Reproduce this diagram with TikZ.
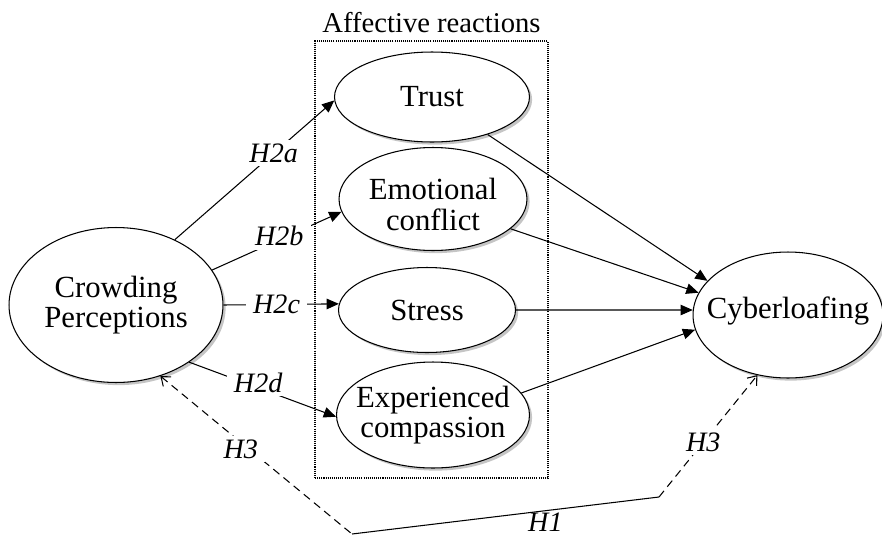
\documentclass[tikz,border=0pt]{standalone}
\usepackage{fontspec}
\setmainfont{Liberation Serif}
\usetikzlibrary{shapes.geometric,shadows,arrows.meta}

\begin{document}
\begin{tikzpicture}[x=0.02cm,y=-0.02cm,
  construct/.style={ellipse,draw,fill=white,line width=0.6pt,inner sep=0pt,
    drop shadow={shadow xshift=1.5pt,shadow yshift=-1.5pt,fill=black!45}},
  txt/.style={align=center,inner sep=0pt,font=\fontsize{17.5}{17.5}\selectfont},
  hyp/.style={fill=white,inner xsep=4pt,inner ysep=2pt,font=\fontsize{16}{16}\selectfont\itshape},
  effect/.style={line width=0.6pt,-{Triangle[length=7pt,width=6pt]}},
  moderated/.style={line width=0.6pt,dash pattern=on 4.5pt off 3pt},
  barb/.tip={Straight Barb[length=4.5pt,width=7pt]}]
  \useasboundingbox (0,0) rectangle (882,538);

  % affective reactions group
  \node[draw,line width=0.8pt,dash pattern=on 0.6pt off 0.6pt,inner sep=0pt,
    minimum width=4.66cm,minimum height=8.74cm] (group) at (431.5,259.5) {};
  \node[anchor=base,inner sep=0pt,font=\fontsize{16.3}{16}\selectfont]
    (title) at ([yshift=4.5pt]group.north) {Affective reactions};

  % constructs
  \node[construct,minimum width=4.28cm,minimum height=3.1cm,
    label={[txt]center:Crowding\\Perceptions}] (crowd) at (116,305) {};
  \node[construct,minimum width=3.9cm,minimum height=1.8cm,
    label={[txt]center:Trust}] (trust) at (432,97) {};
  \node[construct,minimum width=3.76cm,minimum height=2.06cm,
    label={[txt,yshift=-3pt]center:Emotional\\conflict}] (conflict) at (433,199) {};
  \node[construct,minimum width=3.54cm,minimum height=1.7cm,
    label={[txt]center:Stress}] (stress) at (427,310) {};
  \node[construct,minimum width=3.86cm,minimum height=2.12cm,
    label={[txt]center:Experienced\\compassion}] (compassion) at (433,415) {};
  \node[construct,minimum width=3.8cm,minimum height=2.52cm,
    label={[txt,yshift=2pt]center:Cyberloafing}] (cyber) at (788,315) {};

  % H2 paths
  \draw[effect] (crowd.48) -- node[hyp,pos=0.62] {H2a} (trust.182);
  \draw[effect] (crowd.20) -- node[hyp,pos=0.52,yshift=2pt] {H2b} (conflict.188);
  \draw[effect] (crowd.0) -- node[hyp,pos=0.46] {H2c} (stress.176);
  \draw[effect] (crowd.-38) -- node[hyp,pos=0.47,yshift=3pt] {H2d} (compassion.181);

  % to cyberloafing
  \draw[effect] (trust.-34) -- (cyber.157);
  \draw[effect] (conflict.-21) -- (cyber.166);
  \draw[effect] (stress.0) -- (cyber.177);
  \draw[effect] (compassion.14) -- (cyber.189);

  % H1 and H3
  \coordinate (bendL) at (352,534);
  \coordinate (bendR) at (659,497);
  \draw[moderated,barb-] (crowd.-58) -- node[hyp,pos=0.42,yshift=-4pt] {H3} (bendL);
  \draw[line width=0.6pt] (bendL) -- node[hyp,below,pos=0.63,fill=none,inner ysep=1pt] {H1} (bendR);
  \draw[moderated,-barb] (bendR) -- node[hyp,pos=0.45] {H3} (cyber.243);
\end{tikzpicture}
\end{document}
